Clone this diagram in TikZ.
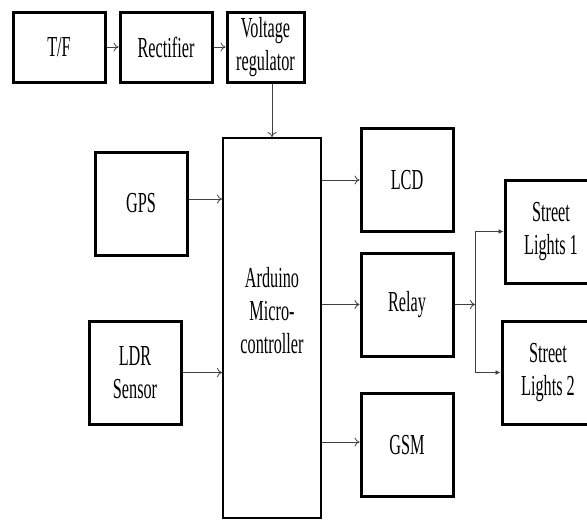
\documentclass[tikz,border=0pt]{standalone}
\usepackage{fontspec}
\setmainfont[FakeStretch=0.56]{Liberation Serif}
\usetikzlibrary{arrows.meta}

\begin{document}
\begin{tikzpicture}
[
	x=1pt, y=-1pt,
	block/.style={draw, line width=3pt, inner sep=0pt, align=center,
		minimum width=92pt, minimum height=103pt,
		font=\fontsize{29}{33}\selectfont},
	feed/.style={draw=black!75, line width=0.8pt, -{To[length=5pt,width=9pt]}},
	fed/.style={draw=black!75, line width=0.8pt, -{Latex[length=5pt,width=5pt]}}
]

	\useasboundingbox (0,0) rectangle (587,520);
	\clip (0,0) rectangle (587,520);

	% power supply
	\node[block, minimum height=70pt] at (59,47) (tf) {T/F};
	\node[block, minimum height=70pt] at (166,47) (rect) {Rectifier};
	\node[block, minimum width=77pt, minimum height=70pt] at (265.5,47) (vreg) {Voltage\\regulator};

	% controller
	\node[block, line width=2pt, minimum width=98pt, minimum height=380pt, text depth=36pt] at (272,328) (ard) {Arduino\\Micro-\\controller};

	% inputs
	\node[block] at (141,203.5) (gps) {GPS};
	\node[block] at (135,372.5) (ldr) {LDR\\Sensor};

	% outputs
	\node[block] at (407,180) (lcd) {LCD};
	\node[block] at (407,304.5) (relay) {Relay};
	\node[block] at (407,445) (gsm) {GSM};
	\node[block] at (551,231.5) (sl1) {Street\\Lights 1};
	\node[block] at (548,372.5) (sl2) {Street\\Lights 2};

	% connections
	\draw[feed] (tf) -- (rect);
	\draw[feed] (rect) -- (vreg);
	\draw[feed] (vreg.south -| ard.north) -- (ard.north);
	\draw[feed] ([yshift=4.5pt]gps.east) -- ([yshift=4.5pt]gps.east -| ard.west);
	\draw[feed] (ldr) -- (ldr -| ard.west);
	\draw[feed] (ard.east |- lcd) -- (lcd);
	\draw[feed] (ard.east |- relay) -- (relay);
	\draw[feed] ([yshift=3pt]gsm.west -| ard.east) -- ([yshift=3pt]gsm.west);

	\coordinate (bus) at (475,304.5);
	\draw[feed] (relay) -- (bus);
	\draw[draw=black!75, line width=0.8pt] (bus |- sl1) -- (bus |- sl2);
	\draw[fed] (bus |- sl1) -- (sl1);
	\draw[fed] (bus |- sl2) -- (sl2);

\end{tikzpicture}
\end{document}
